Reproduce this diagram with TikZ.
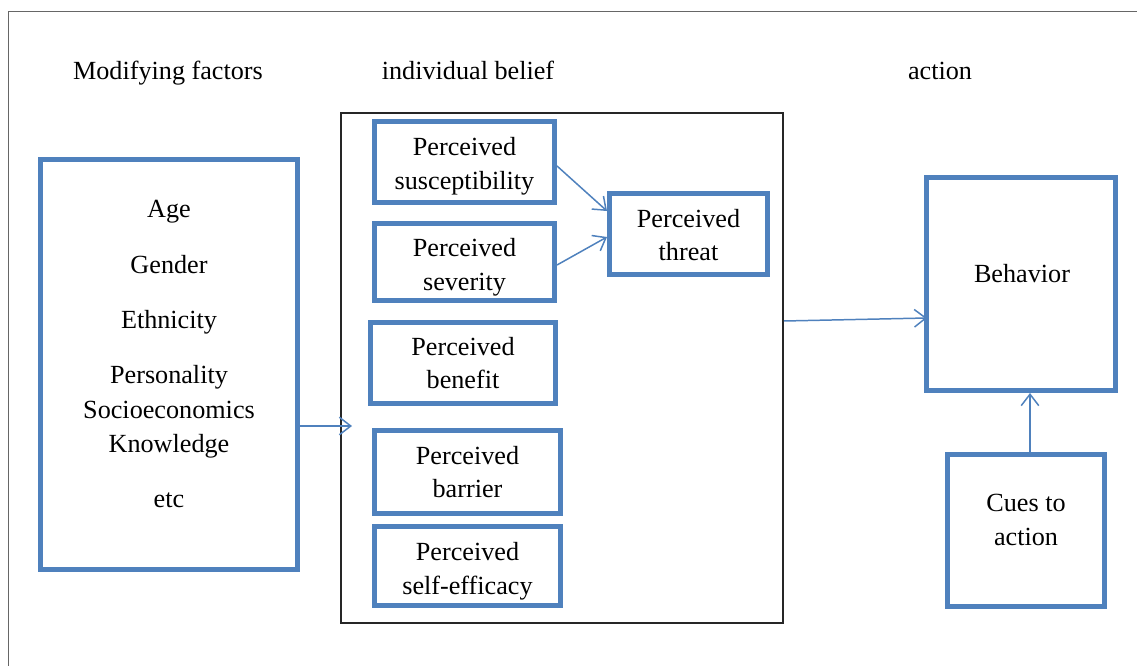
\documentclass[tikz,border=0pt]{standalone}
\usepackage{fontspec}
\setmainfont{Liberation Serif}
\usetikzlibrary{arrows.meta,calc}
\definecolor{boxblue}{HTML}{4F81BD}
\definecolor{frame}{HTML}{666666}
\begin{document}
\begin{tikzpicture}[x=0.02cm,y=-0.02cm,
  txt/.style={font=\fontsize{14.9}{19.3}\selectfont, text=black, align=center, inner sep=0pt},
  bluebox/.style={draw=boxblue, line width=2.85pt, inner sep=0pt},
  groupbox/.style={draw=black!85, line width=1.1pt, inner sep=0pt},
  arr/.style={draw=boxblue, line width=0.85pt, -{Straight Barb[length=6.5pt,width=10pt]}}]
\useasboundingbox (0,0) rectangle (1137,666);
% page frame, top and left edges
\draw[frame, line width=0.9pt] (8.5,666) -- (8.5,11.5) -- (1137,11.5);

% column headings
\node[txt] (hmod) at (168,73) {Modifying factors};
\node[txt] (hbel) at (468,70) {individual belief};
\node[txt] (hact) at (940,71) {action};

% modifying factors
\node[bluebox, minimum width=257*0.02cm, minimum height=410*0.02cm] (mod) at (169,364.5) {};
\node[txt] (age) at (169,212) {Age};
\node[txt] (gen) at (169,265) {Gender};
\node[txt] (eth) at (169,322) {Ethnicity};
\node[txt] (per) at (169,377) {Personality};
\node[txt] (soc) at (169,410) {Socioeconomics};
\node[txt] (kno) at (169,446) {Knowledge};
\node[txt] (etc) at (169,500) {etc};

% individual belief group
\node[groupbox, minimum width=442*0.02cm, minimum height=510*0.02cm] (bel) at (562,368) {};
\node[bluebox, minimum width=180*0.02cm, minimum height=81*0.02cm] (sus) at (464.5,162) {};
\node[bluebox, minimum width=180*0.02cm, minimum height=77*0.02cm] (sev) at (464.5,262) {};
\node[bluebox, minimum width=185*0.02cm, minimum height=81*0.02cm] (ben) at (463,363) {};
\node[bluebox, minimum width=186*0.02cm, minimum height=83*0.02cm] (bar) at (467.5,472) {};
\node[bluebox, minimum width=186*0.02cm, minimum height=79*0.02cm] (eff) at (467.5,566) {};
\node[bluebox, minimum width=158*0.02cm, minimum height=81*0.02cm] (thr) at (688.5,234) {};
\node[txt] (sustxt) at ($(sus)+(0,4.5)$) {Perceived\\susceptibility};
\node[txt] (sevtxt) at ($(sev)+(0,5)$) {Perceived\\severity};
\node[txt] (bentxt) at (ben) {Perceived\\benefit};
\node[txt] (bartxt) at (bar) {Perceived\\barrier};
\node[txt] (efftxt) at ($(eff)+(0,5)$) {Perceived\\self-efficacy};
\node[txt] (thrtxt) at ($(thr)+(0,1)$) {Perceived\\threat};

% action
\node[bluebox, minimum width=189*0.02cm, minimum height=213*0.02cm] (beh) at (1021,284) {};
\node[txt] (behtxt) at (1022,274) {Behavior};
\node[bluebox, minimum width=157*0.02cm, minimum height=152*0.02cm] (cue) at (1026,530.5) {};
\node[txt] (cuetxt) at (1026,520) {Cues to\\action};

% connectors
\coordinate (inb) at (352,426);
\draw[arr] (mod.east |- inb) -- (inb);
\draw[arr] ($(sus.east)+(0,4)$) -- ($(thr.west)+(0,-23)$);
\draw[arr] ($(sev.east)+(0,3)$) -- ($(thr.west)+(0,3)$);
\draw[arr] ($(bel.east)+(0,-47)$) -- ($(beh.west)+(3,34)$);
\draw[arr] (cue.north -| 1030,0) -- (beh.south -| 1030,0);
\end{tikzpicture}
\end{document}
